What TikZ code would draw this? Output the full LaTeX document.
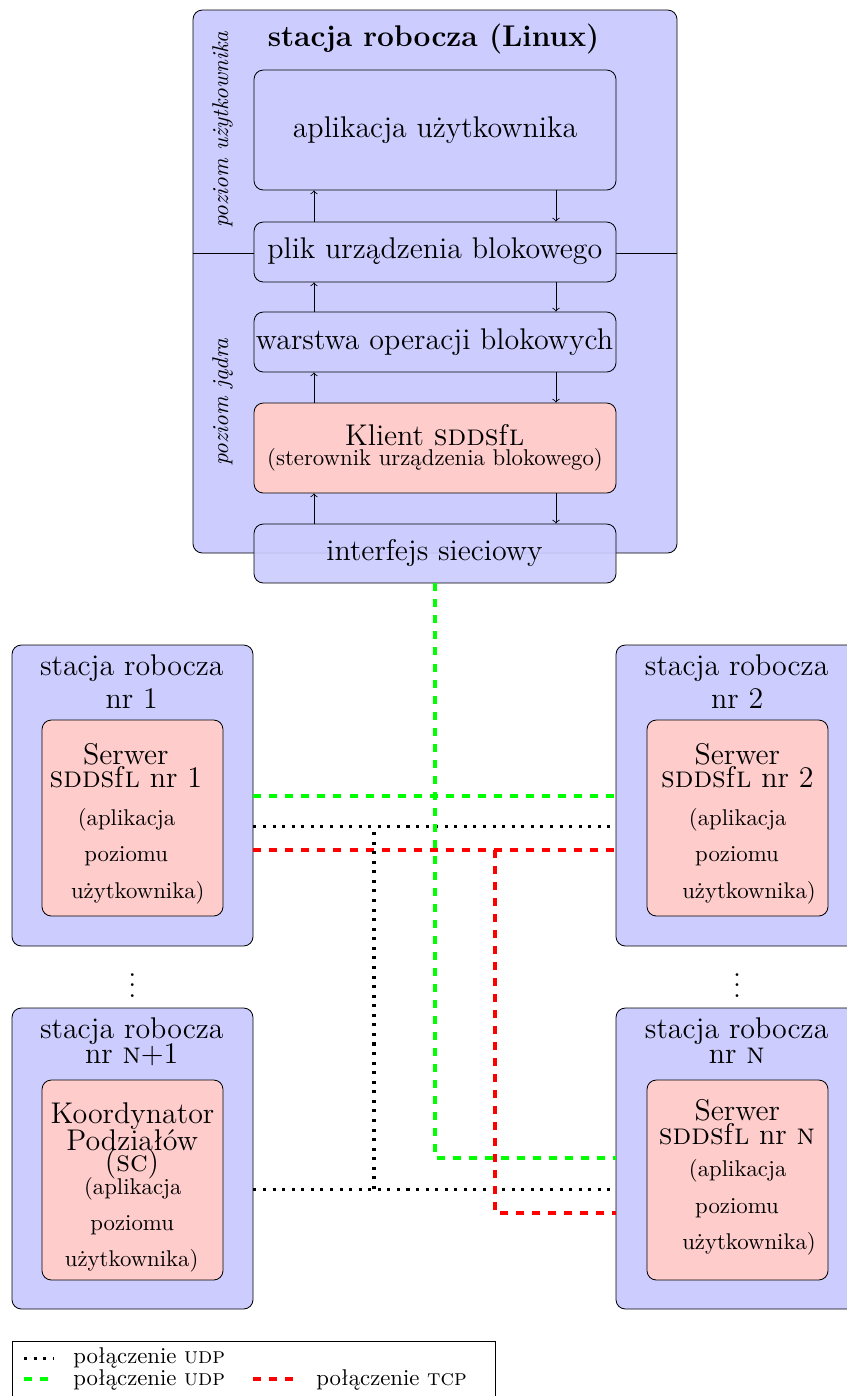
\documentclass[tikz,border=0pt]{standalone}
\usepackage{fontspec}
\usetikzlibrary{fit}
\newcommand\bigtxt{\fontsize{14.4pt}{17.3pt}\selectfont}
\newcommand\midtxt{\fontsize{10.95pt}{13.6pt}\selectfont}
\begin{document}
\begin{tikzpicture}[x=0.4808pt, y=-0.4808pt,
  frame/.style={draw, rounded corners=4.5pt, fill=blue!20, inner sep=0pt},
  drv/.style={draw, rounded corners=4.5pt, fill=red!20, inner sep=0pt},
  ln/.style={anchor=base, inner sep=0pt, font=\bigtxt},
  sm/.style={anchor=base, inner sep=0pt, font=\midtxt},
  side/.style={anchor=base, inner sep=0pt, rotate=90, font=\midtxt\itshape},
  udp/.style={draw=black, line width=1.45pt, dash pattern=on 1.45pt off 3.15pt},
  udpg/.style={draw=green, line width=1.9pt, dash pattern=on 3.85pt off 3.85pt},
  tcp/.style={draw=red, line width=1.9pt, dash pattern=on 3.85pt off 3.85pt},
  flow/.style={->, >=to},
  vdot/.style={anchor=base, inner sep=0pt, scale=1.29}
]
\useasboundingbox (0,0) rectangle (847,1396);
\clip (0,0) rectangle (847,1396);

% --- workstation running the client (Linux) ---
\node[frame, fit={(193,10)(677,553)}] (ws) {};
\node[ln, font=\bigtxt\bfseries] (wstitle) at (433.5,46.7) {stacja robocza (Linux)};
\node[side] (lvu) at (228,129.5) {poziom użytkownika};
\node[side] (lvk) at (228,402) {poziom jądra};

\node[frame, fit={(254,70)(616,190)}] (app) {};
\node[ln] (appt) at (435,137.3) {aplikacja użytkownika};
\draw (ws.west |- 0,253) -- (ws.east |- 0,253);
\node[frame, fit={(254,222)(616,282)}] (dev) {};
\node[ln] (devt) at (434.8,258.3) {plik urządzenia blokowego};
\node[frame, fit={(254,312)(616,372)}] (blk) {};
\node[ln] (blkt) at (434.5,349.3) {warstwa operacji blokowych};
\node[drv, fit={(254,403)(616,493)}] (cli) {};
\node[ln] (clia) at (434.7,445.7) {Klient \textsc{sdds}f\textsc{l}};
\node[sm] (clib) at (435,465.7) {(sterownik urządzenia blokowego)};
\node[frame, fill opacity=0.92, fit={(254,524)(616,583)}] (nic) {};
\node[ln] (nict) at (434.5,560) {interfejs sieciowy};

% requests go down on the right, replies come up on the left
\coordinate (up) at (314,0);
\coordinate (dn) at (556,0);
\foreach \lo/\hi in {dev/app, blk/dev, cli/blk, nic/cli} {
  \draw[flow] (\lo.north -| up) -- (\hi.south -| up);
  \draw[flow] (\hi.south -| dn) -- (\lo.north -| dn);
}

% --- server workstations ---
\node[frame, fit={(12,645)(253,946)}] (st1) {};
\node[ln] (st1a) at (131.8,675) {stacja robocza};
\node[ln] (st1b) at (131.7,708.3) {nr 1};
\node[drv, fit={(42,720)(223,916)}] (sv1) {};
\node[ln] (sv1a) at (125.8,764) {Serwer};
\node[ln] (sv1b) at (125.8,787.7) {\textsc{sdds}f\textsc{l} nr 1};
\node[sm] (sv1c) at (126.5,825.3) {(aplikacja};
\node[sm] (sv1d) at (126.2,861.7) {poziomu};
\node[sm] (sv1e) at (137.8,898.3) {użytkownika)};

\node[frame, fit={(616,645)(857,946)}] (st2) {};
\node[ln] (st2a) at (736.7,675) {stacja robocza};
\node[ln] (st2b) at (737.2,708.3) {nr 2};
\node[drv, fit={(647,720)(828,916)}] (sv2) {};
\node[ln] (sv2a) at (737.3,764) {Serwer};
\node[ln] (sv2b) at (737.3,787.7) {\textsc{sdds}f\textsc{l} nr 2};
\node[sm] (sv2c) at (737.7,825.3) {(aplikacja};
\node[sm] (sv2d) at (737,861.7) {poziomu};
\node[sm] (sv2e) at (749,898.3) {użytkownika)};

\node[vdot] (dl) at (132.3,997.6) {$\vdots$};
\node[vdot] (dr) at (737,997.6) {$\vdots$};

\node[frame, fit={(12,1008)(253,1309)}] (stC) {};
\node[ln] (stCa) at (131.8,1038.3) {stacja robocza};
\node[ln] (stCb) at (131.7,1063.3) {nr \textsc{n}+1};
\node[drv, fit={(42,1080)(223,1280)}] (svC) {};
\node[ln] (svCa) at (132.5,1123.3) {Koordynator};
\node[ln] (svCb) at (132.2,1150) {Podziałów};
\node[ln] (svCc) at (132,1171.7) {(\textsc{sc})};
\node[sm] (svCd) at (132.8,1194.3) {(aplikacja};
\node[sm] (svCe) at (132.2,1230) {poziomu};
\node[sm] (svCf) at (131.7,1266.7) {użytkownika)};

\node[frame, fit={(616,1008)(857,1309)}] (stN) {};
\node[ln] (stNa) at (736.7,1038.3) {stacja robocza};
\node[ln] (stNb) at (736.7,1063.3) {nr \textsc{n}};
\node[drv, fit={(647,1080)(828,1280)}] (svN) {};
\node[ln] (svNa) at (737.3,1120.7) {Serwer};
\node[ln] (svNb) at (737,1144.3) {\textsc{sdds}f\textsc{l} nr \textsc{n}};
\node[sm] (svNc) at (737.7,1176.7) {(aplikacja};
\node[sm] (svNd) at (737,1213.3) {poziomu};
\node[sm] (svNe) at (749,1249.3) {użytkownika)};

% --- network links ---
\coordinate (g1) at (0,796);
\coordinate (b1) at (0,826);
\coordinate (r1) at (0,850);
\coordinate (g2) at (0,1158);
\coordinate (b2) at (0,1189);
\coordinate (r2) at (0,1213);
\coordinate (bx) at (374,0);
\coordinate (rx) at (495,0);

\draw[udpg] (st1.east |- g1) -- (st2.west |- g1);
\draw[udp] (st1.east |- b1) -- (st2.west |- b1);
\draw[tcp] (st1.east |- r1) -- (st2.west |- r1);
\draw[udpg] (nic.south) |- (stN.west |- g2);
\draw[udp] (stC.east |- b2) -- (stN.west |- b2);
\draw[udp] (bx |- b2) -- (bx |- b1);
\draw[tcp] (rx |- r1) |- (stN.west |- r2);

% --- legend ---
\node[draw, fit={(12,1341)(495,1402)}, inner sep=0pt] (key) {};
\coordinate (k1a) at (24,1358);
\coordinate (k1b) at (54,1358);
\coordinate (k2a) at (24,1379);
\coordinate (k2b) at (48,1379);
\coordinate (k3a) at (253,1379);
\coordinate (k3b) at (293,1379);
\draw[udp] (k1a) -- (k1b);
\draw[udpg] (k2a) -- (k2b);
\draw[tcp] (k3a) -- (k3b);
\node[sm, anchor=base west] (kt1) at (73,1363) {połączenie \textsc{udp}};
\node[sm, anchor=base west] (kt2) at (73,1385) {połączenie \textsc{udp}};
\node[sm, anchor=base west] (kt3) at (316,1385) {połączenie \textsc{tcp}};
\end{tikzpicture}
\end{document}
